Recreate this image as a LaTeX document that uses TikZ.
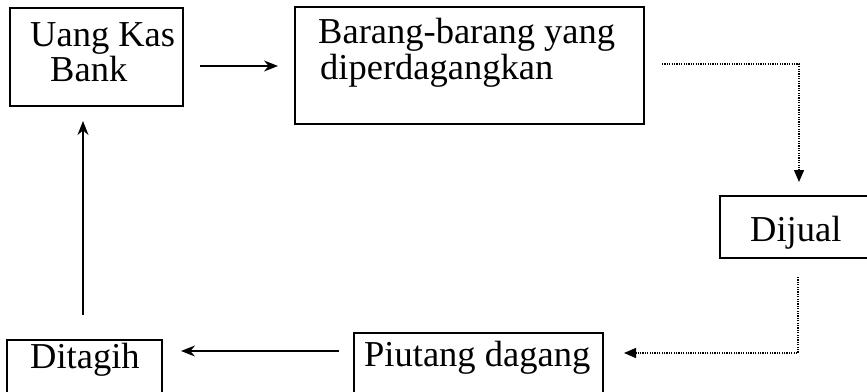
\documentclass[tikz,border=0pt]{standalone}
\usepackage{fontspec}
\setmainfont{Liberation Serif}
\usetikzlibrary{arrows.meta}
\begin{document}
\begin{tikzpicture}[x=1pt,y=-1pt,
  box/.style={draw,line width=1.6pt,inner sep=0pt,outer sep=0pt},
  txt/.style={anchor=base west,inner sep=0pt,font=\fontsize{36.5}{36.5}\selectfont},
  solidarrow/.style={line width=1.4pt,-{Stealth[length=14pt,width=11pt]}},
  dotarrow/.style={line width=1.4pt,dash pattern=on 1.2pt off 1.2pt,-{Triangle[length=12pt,width=10pt]}}]
\useasboundingbox (0,0) rectangle (867,391);
\clip (0,0) rectangle (867,391);
% boxes
\node[box,minimum width=173pt,minimum height=98pt] (b1) at (96.5,57) {};
\node[box,minimum width=349pt,minimum height=117pt] (b2) at (469.5,65.5) {};
\node[box,minimum width=170pt,minimum height=62pt] (b3) at (805,227) {};
\node[box,minimum width=155pt,minimum height=80pt] (b5) at (84.5,380) {};
\node[box,minimum width=249pt,minimum height=87pt] (b4) at (478.5,376.5) {};
% texts
\node[txt] (t1a) at (30,46) {Uang Kas};
\node[txt] (t1b) at (50,81) {Bank};
\node[txt] (t2a) at (318,43) {Barang-barang yang};
\node[txt] (t2b) at (320,79) {diperdagangkan};
\node[txt] (t3) at (750,241) {Dijual};
\node[txt] (t4) at (364,366) {Piutang dagang};
\node[txt] (t5) at (30,368) {Ditagih};
% connector end points
\coordinate (a1s) at (200,66);
\coordinate (a1e) at (278,66);
\coordinate (d1s) at (662,64);
\coordinate (d1e) at (799,182);
\coordinate (d2s) at (798,277);
\coordinate (d2e) at (624,353);
\coordinate (a2s) at (339,351);
\coordinate (a2e) at (181,351);
\coordinate (a3s) at (83,315);
\coordinate (a3e) at (83,121);
% connectors
\draw[solidarrow] (a1s) -- (a1e);
\draw[dotarrow] (d1s) -| (d1e);
\draw[dotarrow] (d2s) |- (d2e);
\draw[solidarrow] (a2s) -- (a2e);
\draw[solidarrow] (a3s) -- (a3e);
\end{tikzpicture}
\end{document}
